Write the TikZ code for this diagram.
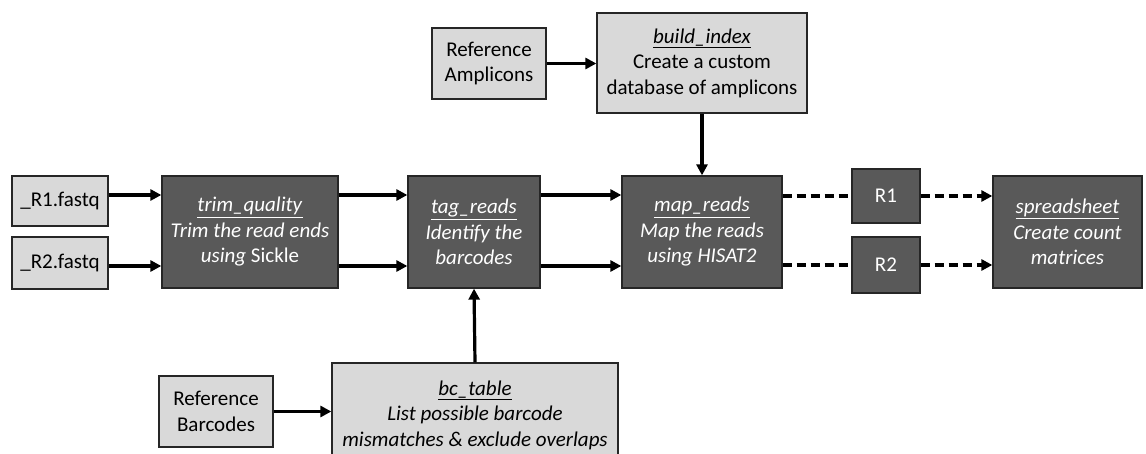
\documentclass[tikz,border=0pt]{standalone}
\usepackage{fontspec}
\setmainfont{Carlito}
\usetikzlibrary{arrows.meta}
\definecolor{lightbox}{HTML}{D9D9D9}
\definecolor{darkbox}{HTML}{595959}
\tikzset{
  boxbase/.style={draw=black!85, line width=1.3pt, inner sep=0pt, align=center,
    font=\fontsize{21}{25.5}\selectfont, anchor=center},
  lightnode/.style={boxbase, fill=lightbox, text=black},
  darknode/.style={boxbase, fill=darkbox, text=white},
  flow/.style={line width=3.2pt, -{Triangle[length=11pt,width=11pt]}},
  dashflow/.style={flow, dash pattern=on 9pt off 5pt},
}
\newcommand{\steptitle}[1]{\underline{\textit{#1}}}
\begin{document}
\begin{tikzpicture}[x=1pt,y=-1pt]
\useasboundingbox (0,0) rectangle (1146,454);

% inputs
\node[lightnode, minimum width=96pt, minimum height=50pt] (r1in) at (60,201) {\_R1.fastq};
\node[lightnode, minimum width=96pt, minimum height=52pt] (r2in) at (60,263) {\_R2.fastq};

% processing steps
\node[darknode, minimum width=176pt, minimum height=112pt] (trim) at (250,232)
  {\steptitle{trim\_quality}\\ \textit{Trim the read ends}\\ \textit{using} Sickle};
\node[darknode, minimum width=132pt, minimum height=112pt] (tag) at (474,232)
  {\steptitle{tag\_reads}\\ \textit{Identify the}\\ \textit{barcodes}};
\node[darknode, minimum width=160pt, minimum height=112pt] (map) at (702,232)
  {\steptitle{map\_reads}\\ \textit{Map the reads}\\ \textit{using HISAT2}};
\node[darknode, minimum width=68pt, minimum height=54pt] (r1out) at (886,196) {R1};
\node[darknode, minimum width=68pt, minimum height=56pt] (r2out) at (886,265) {R2};
\node[darknode, minimum width=149pt, minimum height=112pt] (sheet) at (1067.5,232)
  {\steptitle{spreadsheet}\\ \textit{Create count}\\ \textit{matrices}};

% index building
\node[lightnode, minimum width=114pt, minimum height=71pt] (refamp) at (489,63.5)
  {Reference\\ Amplicons};
\node[lightnode, minimum width=210pt, minimum height=100pt] (index) at (702,63)
  {\steptitle{build\_index}\\ Create a custom\\ database of amplicons};

% barcode table
\node[lightnode, minimum width=114pt, minimum height=71pt] (refbc) at (216,411.5)
  {Reference\\ Barcodes};
\node[lightnode, minimum width=286pt, minimum height=104pt] (bctab) at (475,415)
  {\steptitle{bc\_table}\\ \textit{List possible barcode}\\ \textit{mismatches \& exclude overlaps}};

% connectors
\draw[flow] (r1in.east |- 0,195) -- (trim.west |- 0,195);
\draw[flow] (r2in.east |- 0,266) -- (trim.west |- 0,266);
\draw[flow] (trim.east |- 0,195) -- (tag.west |- 0,195);
\draw[flow] (trim.east |- 0,266) -- (tag.west |- 0,266);
\draw[flow] (tag.east |- 0,195) -- (map.west |- 0,195);
\draw[flow] (tag.east |- 0,266) -- (map.west |- 0,266);
\draw[dashflow, -] (map.east |- r1out.west) -- (r1out.west);
\draw[dashflow, -] (map.east |- r2out.west) -- (r2out.west);
\draw[dashflow] (r1out.east) -- (sheet.west |- r1out.east);
\draw[dashflow] (r2out.east) -- (sheet.west |- r2out.east);
\draw[flow] (refamp.east) -- (index.west |- refamp.east);
\draw[flow] (index.south) -- (map.north);
\draw[flow] (refbc.east) -- (bctab.west |- refbc.east);
\draw[flow] (bctab.north) -- (tag.south);
\end{tikzpicture}
\end{document}
